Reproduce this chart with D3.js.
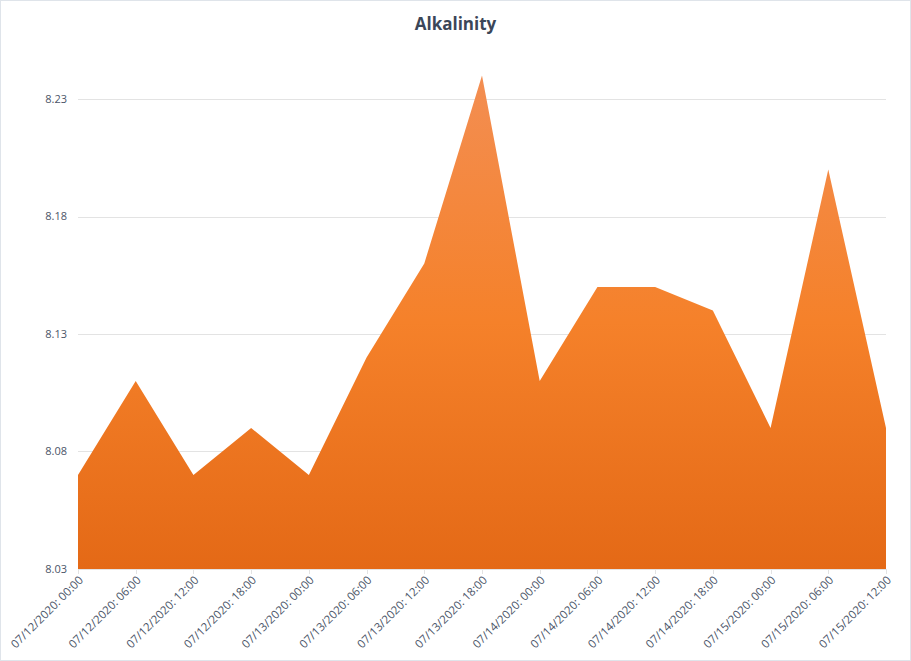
<!DOCTYPE html>
<html>
<head>
<meta charset="utf-8">
<script src="https://cdn.jsdelivr.net/npm/d3@7"></script>
<style>
  html, body { margin: 0; padding: 0; background: #fff; }
  #chart { width: 911px; height: 661px; }
</style>
</head>
<body>
<div id="chart"></div>
<script>
const labels = [
    "07/12/2020: 00:00", "07/12/2020: 06:00", "07/12/2020: 12:00", "07/12/2020: 18:00",
    "07/13/2020: 00:00", "07/13/2020: 06:00", "07/13/2020: 12:00", "07/13/2020: 18:00",
    "07/14/2020: 00:00", "07/14/2020: 06:00", "07/14/2020: 12:00", "07/14/2020: 18:00",
    "07/15/2020: 00:00", "07/15/2020: 06:00", "07/15/2020: 12:00"
];
const values = [8.07, 8.11, 8.07, 8.09, 8.07, 8.12, 8.16, 8.24, 8.11, 8.15, 8.15, 8.14, 8.09, 8.20, 8.09];
const yTicks = [8.03, 8.08, 8.13, 8.18, 8.23];

const width = 911;
const height = 661;
const margin = { top: 52, right: 25, bottom: 92, left: 78 };

const svg = d3.select("#chart").append("svg")
    .attr("width", width)
    .attr("height", height)
    .attr("style", "font-family: 'Open Sans', 'DejaVu Sans', sans-serif;");

// outer frame
svg.append("rect")
    .attr("x", 0.5).attr("y", 0.5)
    .attr("width", width - 1).attr("height", height - 1)
    .attr("fill", "#fff")
    .attr("stroke", "#dfe4ea");

const x = d3.scalePoint()
    .domain(labels)
    .range([margin.left, width - margin.right]);

const y = d3.scaleLinear()
    .domain([8.03, 8.25])
    .range([height - margin.bottom, margin.top]);

// gradient
const grad = svg.append("defs").append("linearGradient")
    .attr("id", "fillGrad")
    .attr("x1", 0).attr("y1", 0).attr("x2", 0).attr("y2", 1);
grad.append("stop").attr("offset", "0%").attr("stop-color", "#f38e52");
grad.append("stop").attr("offset", "50%").attr("stop-color", "#f5812a");
grad.append("stop").attr("offset", "100%").attr("stop-color", "#e46916");

// gridlines
svg.append("g")
    .selectAll("line")
    .data(yTicks.slice(1))
    .join("line")
    .attr("x1", margin.left)
    .attr("x2", width - margin.right)
    .attr("y1", d => Math.round(y(d)) + 0.5)
    .attr("y2", d => Math.round(y(d)) + 0.5)
    .attr("stroke", "#e3e3e3");

// area
const area = d3.area()
    .x((d, i) => x(labels[i]))
    .y0(y(8.03))
    .y1(d => y(d));

svg.append("path")
    .datum(values)
    .attr("d", area)
    .attr("fill", "url(#fillGrad)");

// baseline
svg.append("line")
    .attr("x1", margin.left)
    .attr("x2", width - margin.right)
    .attr("y1", Math.round(y(8.03)) + 0.5)
    .attr("y2", Math.round(y(8.03)) + 0.5)
    .attr("stroke", "#e3e3e3");

// y axis labels
svg.append("g")
    .selectAll("text")
    .data(yTicks)
    .join("text")
    .attr("x", 67)
    .attr("y", d => y(d))
    .attr("dy", "0.35em")
    .attr("text-anchor", "end")
    .attr("fill", "#4b5568")
    .style("font-size", "11px")
    .text(d => d.toFixed(2));

// x ticks
svg.append("g")
    .selectAll("line")
    .data(labels)
    .join("line")
    .attr("x1", d => Math.round(x(d)) + 0.5)
    .attr("x2", d => Math.round(x(d)) + 0.5)
    .attr("y1", y(8.03))
    .attr("y2", y(8.03) + 5)
    .attr("stroke", "#e3e3e3");

// x labels rotated
svg.append("g")
    .selectAll("text")
    .data(labels)
    .join("text")
    .attr("transform", d => `translate(${x(d) + 3},${y(8.03) + 9}) rotate(-45)`)
    .attr("text-anchor", "end")
    .attr("dy", "0.35em")
    .attr("fill", "#4b5568")
    .style("font-size", "11.5px")
    .text(d => d);

// title
svg.append("text")
    .attr("x", width / 2)
    .attr("y", 30)
    .attr("text-anchor", "middle")
    .attr("fill", "#3b4658")
    .style("font-size", "17px")
    .style("font-weight", "bold")
    .text("Alkalinity");
</script>
</body>
</html>
